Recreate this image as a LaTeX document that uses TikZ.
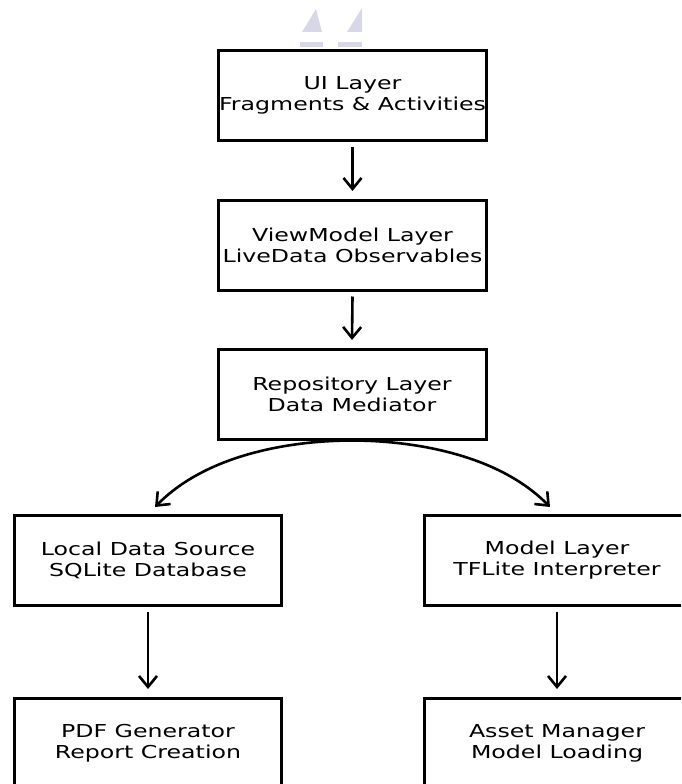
\documentclass[tikz,border=0pt]{standalone}
\usepackage{fontspec}
\newfontfamily\lab{DejaVu Sans}[FakeStretch=1.33]
\usetikzlibrary{arrows.meta}
\definecolor{wm}{RGB}{214,216,232}
\tikzset{
  layerbox/.style={draw=black, line width=3pt, minimum width=268pt, minimum height=90pt,
    inner sep=0pt, align=center, font=\lab\fontsize{17.8}{21}\selectfont},
  arr/.style={line width=2.6pt, -{Straight Barb[length=11pt,width=18pt,line width=2.6pt]}}
}
\begin{document}
\begin{tikzpicture}[x=1pt,y=-1pt]
\useasboundingbox (0,0) rectangle (681,784);
\clip (0,0) rectangle (681,784);
% faint watermark
\fill[wm] (302,32) -- (316,9) -- (322,32) -- cycle;
\fill[wm] (347,32) -- (362,8) -- (362,32) -- cycle;
\fill[wm] (300,42) rectangle (323,47);
\fill[wm] (338,42) rectangle (362,47);
% nodes
\node[layerbox] (ui) at (352.5,95.5) {UI Layer\\Fragments \& Activities};
\node[layerbox] (vm) at (352.5,245) {ViewModel Layer\\LiveData Observables};
\node[layerbox] (repo) at (352,394) {Repository Layer\\Data Mediator};
\node[layerbox, minimum width=267pt] (local) at (148,560) {Local Data Source\\SQLite Database};
\node[layerbox, minimum width=265pt] (model) at (557,560) {Model Layer\\TFLite Interpreter};
\node[layerbox, minimum width=267pt] (pdf) at (148,743) {PDF Generator\\Report Creation};
\node[layerbox, minimum width=265pt] (asset) at (557,743) {Asset Manager\\Model Loading};
% connectors
\draw[arr] ([yshift=-5pt]ui.south) -- ([yshift=7.5pt]vm.north);
\draw[arr] ([yshift=-5pt]vm.south) -- ([yshift=7.5pt]repo.north);
\coordinate (lt) at ([xshift=7pt,yshift=6.5pt]local.north);
\coordinate (rt) at ([xshift=-7pt,yshift=6.5pt]model.north);
\draw[arr] (repo.south) .. controls +(-52,0) and +(55,-56) .. (lt);
\draw[arr] (repo.south) .. controls +(52,0) and +(-55,-56) .. (rt);
\draw[arr] ([yshift=-5pt]local.south) -- ([yshift=7.5pt]pdf.north);
\draw[arr] ([yshift=-5pt]model.south) -- ([yshift=7.5pt]asset.north);
\end{tikzpicture}
\end{document}
